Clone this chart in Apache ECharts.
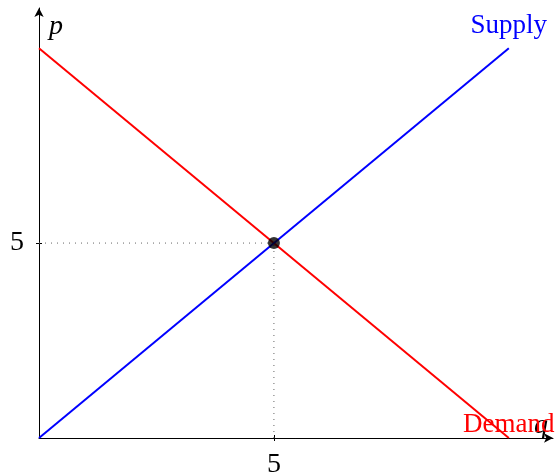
<!DOCTYPE html>
<html>
<head>
<meta charset="utf-8">
<script src="https://cdn.jsdelivr.net/npm/echarts@6/dist/echarts.min.js"></script>
<style>
  html, body { margin: 0; padding: 0; background: #fff; }
  #chart { width: 556px; height: 472px; }
</style>
</head>
<body>
<div id="chart"></div>
<script>
// quantities and prices for the two straight lines
const qValues = [0, 10]
const supplyP = [0, 10]
const demandP = [10, 0]
// equilibrium
const eqQ = 5
const eqP = 5
const tickValues = [5]

const serif = "'Liberation Serif', 'DejaVu Serif', serif"

const chart = echarts.init(document.getElementById('chart'))

function pairs(xs, ys) {
  return xs.map((x, i) => [x, ys[i]])
}

const option = {
  animation: false,
  grid: { left: 39, right: 3, top: 8, bottom: 34, outerBoundsMode: 'none' },
  xAxis: [
    {
      type: 'value',
      min: 0,
      max: 10.94,
      name: 'q',
      nameLocation: 'end',
      nameGap: -5,
      nameTextStyle: { fontFamily: serif, fontStyle: 'italic', fontSize: 28, color: '#000', align: 'right', verticalAlign: 'bottom', padding: [0, 0, -2, 0] },
      axisLine: { lineStyle: { color: '#000', width: 1 }, symbol: ['none', 'arrow'], symbolSize: [7, 9] },
      axisTick: { show: true, length: 3, customValues: tickValues, lineStyle: { color: '#000' } },
      axisLabel: { customValues: tickValues, margin: 13, fontFamily: serif, fontSize: 28, color: '#000' },
      splitLine: { show: false }
    },
    {
      type: 'value',
      min: 0,
      max: 10.94,
      position: 'bottom',
      axisLine: { show: false },
      axisTick: { show: true, inside: true, length: 3, customValues: tickValues, lineStyle: { color: '#000' } },
      axisLabel: { show: false },
      splitLine: { show: false }
    }
  ],
  yAxis: [
    {
      type: 'value',
      min: 0,
      max: 11.03,
      name: 'p',
      nameLocation: 'end',
      nameGap: -5,
      nameTextStyle: { fontFamily: serif, fontStyle: 'italic', fontSize: 28, color: '#000', align: 'left', verticalAlign: 'top', padding: [0, 0, 0, 10] },
      axisLine: { lineStyle: { color: '#000', width: 1 }, symbol: ['none', 'arrow'], symbolSize: [7, 9] },
      axisTick: { show: true, length: 3, customValues: tickValues, lineStyle: { color: '#000' } },
      axisLabel: { customValues: tickValues, margin: 15, fontFamily: serif, fontSize: 28, color: '#000' },
      splitLine: { show: false }
    },
    {
      type: 'value',
      min: 0,
      max: 11.03,
      position: 'left',
      axisLine: { show: false },
      axisTick: { show: true, inside: true, length: 3, customValues: tickValues, lineStyle: { color: '#000' } },
      axisLabel: { show: false },
      splitLine: { show: false }
    }
  ],
  series: [
    {
      type: 'line',
      data: [[0, eqP], [eqQ, eqP]],
      symbol: 'none',
      lineStyle: { color: '#666', width: 1, type: [1, 5] },
      z: 1
    },
    {
      type: 'line',
      data: [[eqQ, 0], [eqQ, eqP]],
      symbol: 'none',
      lineStyle: { color: '#666', width: 1, type: [1, 5] },
      z: 1
    },
    {
      name: 'Demand',
      type: 'line',
      data: pairs(qValues, demandP),
      symbol: 'none',
      lineStyle: { color: '#ff0000', width: 2 },
      endLabel: {
        show: true,
        formatter: 'Demand',
        align: 'center',
        verticalAlign: 'bottom',
        offset: [0, 0],
        distance: 0,
        fontFamily: serif,
        fontSize: 27,
        color: '#ff0000'
      },
      z: 2
    },
    {
      name: 'Supply',
      type: 'line',
      data: pairs(qValues, supplyP),
      symbol: 'none',
      lineStyle: { color: '#0000ff', width: 2 },
      endLabel: {
        show: true,
        formatter: 'Supply',
        align: 'center',
        verticalAlign: 'bottom',
        offset: [0, -9],
        distance: 0,
        fontFamily: serif,
        fontSize: 27,
        color: '#0000ff'
      },
      z: 3
    },
    {
      type: 'scatter',
      data: [[eqQ, eqP]],
      symbol: 'circle',
      symbolSize: 12,
      itemStyle: { color: '#000' },
      z: 5
    }
  ]
}

chart.setOption(option)
</script>
</body>
</html>
